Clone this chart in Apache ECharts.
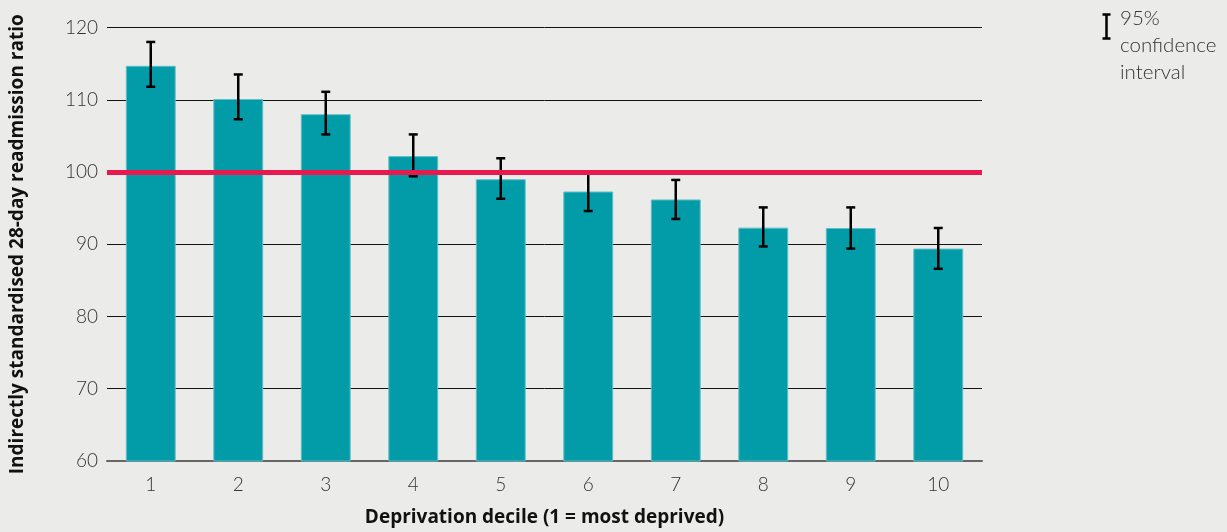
<!DOCTYPE html>
<html>
<head>
<meta charset="utf-8">
<script src="https://cdn.jsdelivr.net/npm/echarts@6/dist/echarts.min.js"></script>
<style>
  html, body { margin: 0; padding: 0; background: #ebebe9; }
  #chart { width: 1227px; height: 532px; }
</style>
</head>
<body>
<div id="chart"></div>
<script>
// Deprivation deciles and readmission ratios with 95% confidence limits
const deciles = ['1', '2', '3', '4', '5', '6', '7', '8', '9', '10'];
const ratio = [114.7, 110.1, 108.0, 102.2, 99.0, 97.3, 96.2, 92.3, 92.25, 89.4];
const ciLower = [111.8, 107.3, 105.2, 99.4, 96.3, 94.6, 93.5, 89.7, 89.4, 86.6];
const ciUpper = [118.0, 113.5, 111.1, 105.2, 101.9, 100.0, 98.9, 95.1, 95.1, 92.25];
const referenceLevel = 100;

const lightFont = 'Lato, "Open Sans", "DejaVu Sans", sans-serif';
const titleFont = '"Open Sans", Lato, "DejaVu Sans", sans-serif';
const chart = echarts.init(document.getElementById('chart'));

const ciData = deciles.map((d, i) => [i, ciLower[i], ciUpper[i]]);

chart.setOption({
  backgroundColor: '#ebebe9',
  animation: false,
  grid: { left: 105, right: 245, top: 27.5, bottom: 69.3 },
  xAxis: {
    type: 'category',
    data: deciles,
    name: 'Deprivation decile (1 = most deprived)',
    nameLocation: 'middle',
    nameGap: 47,
    nameTextStyle: { fontFamily: titleFont, fontSize: 19, fontWeight: 'bold', color: '#111' },
    axisLine: { lineStyle: { color: '#666', width: 2 } },
    axisTick: { show: false },
    axisLabel: { fontFamily: lightFont, fontSize: 19, fontWeight: 300, color: '#333', margin: 14 }
  },
  yAxis: {
    type: 'value',
    min: 60,
    max: 120,
    interval: 10,
    name: 'Indirectly standardised 28-day readmission ratio',
    nameLocation: 'middle',
    nameGap: 80,
    nameTextStyle: { fontFamily: titleFont, fontSize: 19, fontWeight: 'bold', color: '#111' },
    axisLine: { show: false },
    axisTick: { show: false },
    axisLabel: { fontFamily: lightFont, fontSize: 19, fontWeight: 300, color: '#333', margin: 9 },
    splitLine: { lineStyle: { color: '#111', width: 1 } }
  },
  series: [
    {
      type: 'bar',
      data: ratio,
      barWidth: '57%',
      itemStyle: { color: '#019ca8', borderColor: '#5fbfc6', borderWidth: 1 },
      z: 2
    },
    {
      type: 'custom',
      data: ciData,
      z: 3,
      renderItem: function (params, api) {
        const x = api.coord([api.value(0), api.value(1)])[0];
        const lo = api.coord([api.value(0), api.value(1)])[1];
        const hi = api.coord([api.value(0), api.value(2)])[1];
        const half = 4.5;
        const style = { stroke: '#000', lineWidth: 2.5 };
        return {
          type: 'group',
          children: [
            { type: 'line', shape: { x1: x, y1: hi, x2: x, y2: lo }, style: style },
            { type: 'line', shape: { x1: x - half, y1: hi, x2: x + half, y2: hi }, style: style },
            { type: 'line', shape: { x1: x - half, y1: lo, x2: x + half, y2: lo }, style: style }
          ]
        };
      }
    },
    {
      type: 'line',
      data: [],
      z: 5,
      markLine: {
        silent: true,
        symbol: 'none',
        label: { show: false },
        lineStyle: { color: '#e8194e', width: 5, type: 'solid' },
        data: [{ yAxis: referenceLevel }]
      }
    }
  ],
  graphic: [
    {
      type: 'group',
      left: 1100,
      top: 12,
      children: [
        { type: 'line', shape: { x1: 5, y1: 0, x2: 5, y2: 24 }, style: { stroke: '#000', lineWidth: 2.5 } },
        { type: 'line', shape: { x1: 1, y1: 0, x2: 9, y2: 0 }, style: { stroke: '#000', lineWidth: 2.5 } },
        { type: 'line', shape: { x1: 1, y1: 24, x2: 9, y2: 24 }, style: { stroke: '#000', lineWidth: 2.5 } }
      ]
    },
    {
      type: 'text',
      left: 1120,
      top: 5,
      style: {
        text: '95%\nconfidence\ninterval',
        fontFamily: lightFont,
        fontSize: 20.5,
        fontWeight: 300,
        lineHeight: 27,
        fill: '#333'
      }
    }
  ]
});
</script>
</body>
</html>
